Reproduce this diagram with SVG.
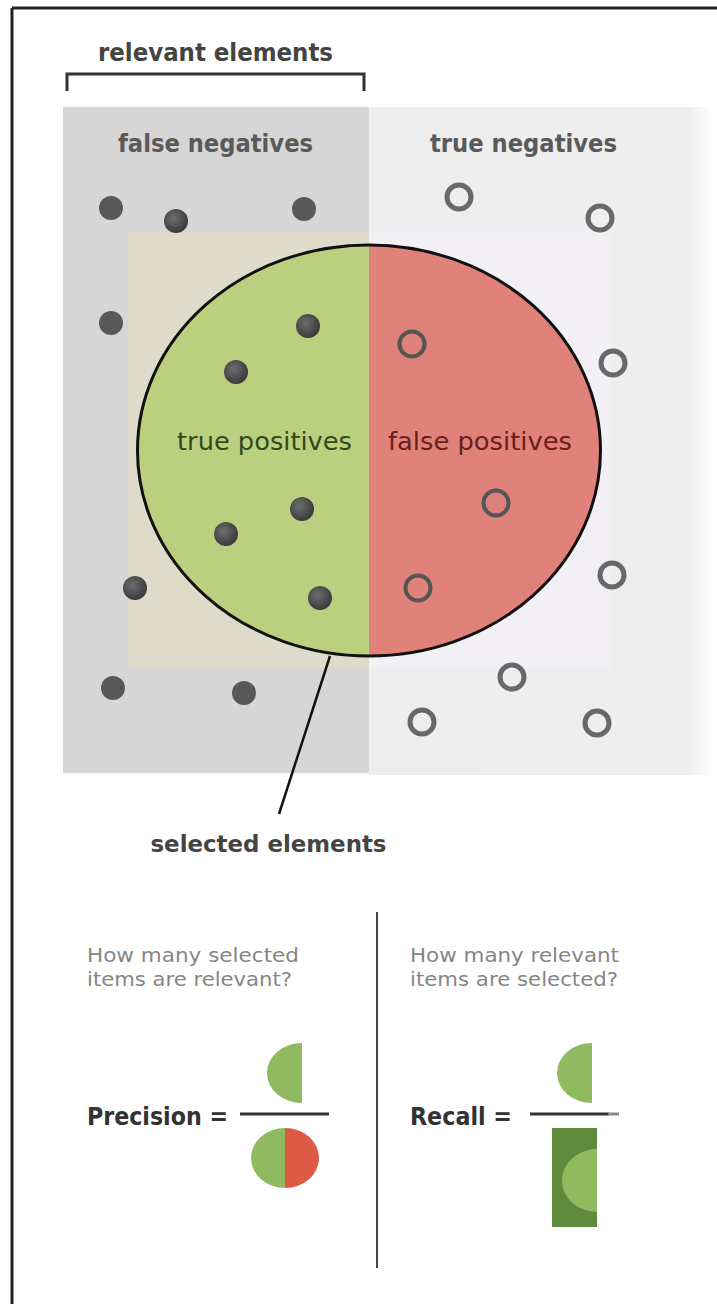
<svg xmlns="http://www.w3.org/2000/svg" width="717" height="1304" viewBox="0 0 717 1304">
  <style>
    .hdr { font-family: "DejaVu Sans", "Liberation Sans", sans-serif; font-weight: bold; }
    .lbl { font-family: "DejaVu Sans", "Liberation Sans", sans-serif; }
    .q { font-family: "DejaVu Sans", "Liberation Sans", sans-serif; font-size: 20px; fill: #868686; }
    .fml { font-family: "DejaVu Sans", "Liberation Sans", sans-serif; font-weight: bold; font-size: 25px; fill: #333; }
    .dot { fill: #585858; }
    .sph { fill: url(#sphere); }
    .ring { fill: none; stroke: #686868; stroke-width: 5; }
    .ring-in { fill: none; stroke: #555; stroke-width: 4; }
    .rule { stroke: #333; stroke-width: 3; }
  </style>
  <defs>
    <radialGradient id="sphere" cx="0.4" cy="0.38" r="0.65">
      <stop offset="0" stop-color="#6e6e6e"/>
      <stop offset="1" stop-color="#383838"/>
    </radialGradient>
    <linearGradient id="tnFade" x1="0" y1="0" x2="1" y2="0">
      <stop offset="0" stop-color="#ededed"/>
      <stop offset="0.93" stop-color="#eeeeee"/>
      <stop offset="1" stop-color="#ffffff"/>
    </linearGradient>
    <clipPath id="leftHalf"><rect x="0" y="0" width="369" height="800"/></clipPath>
    <clipPath id="rightHalf"><rect x="369" y="0" width="400" height="800"/></clipPath>
    <clipPath id="recallBox"><rect x="552" y="1128" width="45" height="99"/></clipPath>
  </defs>

  <rect width="717" height="1304" fill="#ffffff"/>

  <!-- page frame -->
  <g id="frame" stroke="#222" stroke-width="3" fill="none">
    <line x1="12" y1="8" x2="717" y2="8"/>
    <line x1="12" y1="8" x2="12" y2="1304"/>
  </g>

  <!-- relevant / irrelevant halves of the population -->
  <g id="false-negatives-area">
    <rect x="63" y="107" width="306" height="666" fill="#d6d6d6"/>
    <text class="hdr" x="215.5" y="152" font-size="25" fill="#5a5a5a" text-anchor="middle" textLength="195" lengthAdjust="spacingAndGlyphs">false negatives</text>
  </g>
  <g id="true-negatives-area">
    <rect x="369" y="107" width="343" height="668" fill="url(#tnFade)"/>
    <text class="hdr" x="523.5" y="152" font-size="25" fill="#5a5a5a" text-anchor="middle" textLength="187" lengthAdjust="spacingAndGlyphs">true negatives</text>
  </g>

  <!-- selection box behind the ellipse -->
  <g id="selection-box">
    <rect x="128" y="232" width="241" height="436" fill="#dedbca"/>
    <rect x="369" y="232" width="242" height="436" fill="#f2f0f4"/>
  </g>

  <!-- selected elements ellipse -->
  <g id="selected-ellipse">
    <ellipse cx="369" cy="450.5" rx="231.5" ry="205.5" fill="#bbd07e" clip-path="url(#leftHalf)"/>
    <ellipse cx="369" cy="450.5" rx="231.5" ry="205.5" fill="#e0817a" clip-path="url(#rightHalf)"/>
    <ellipse cx="369" cy="450.5" rx="231.5" ry="205.5" fill="none" stroke="#111" stroke-width="3"/>
    <text class="lbl" x="264.5" y="450" font-size="25.5" fill="#30491c" text-anchor="middle" textLength="175" lengthAdjust="spacingAndGlyphs">true positives</text>
    <text class="lbl" x="480" y="450" font-size="25.5" fill="#6b1f1a" text-anchor="middle" textLength="184" lengthAdjust="spacingAndGlyphs">false positives</text>
  </g>

  <!-- relevant items (filled) -->
  <g id="relevant-items">
    <circle class="dot" cx="111" cy="208" r="12"/>
    <circle class="dot" cx="304" cy="209" r="12"/>
    <circle class="dot" cx="111" cy="323" r="12"/>
    <circle class="dot" cx="113" cy="688" r="12"/>
    <circle class="dot" cx="244" cy="693" r="12"/>
    <circle class="sph" cx="176" cy="221" r="12"/>
    <circle class="sph" cx="135" cy="588" r="12"/>
    <circle class="sph" cx="308" cy="326" r="12"/>
    <circle class="sph" cx="236" cy="372" r="12"/>
    <circle class="sph" cx="302" cy="509" r="12"/>
    <circle class="sph" cx="226" cy="534" r="12"/>
    <circle class="sph" cx="320" cy="598" r="12"/>
  </g>

  <!-- irrelevant items (rings) -->
  <g id="irrelevant-items">
    <circle class="ring" cx="459" cy="197" r="12"/>
    <circle class="ring" cx="600" cy="218" r="12"/>
    <circle class="ring" cx="613" cy="363" r="12"/>
    <circle class="ring" cx="612" cy="575" r="12"/>
    <circle class="ring" cx="512" cy="677" r="12"/>
    <circle class="ring" cx="422" cy="722" r="12"/>
    <circle class="ring" cx="597" cy="723" r="12"/>
    <circle class="ring-in" cx="412" cy="344" r="12.5"/>
    <circle class="ring-in" cx="496" cy="503" r="12.5"/>
    <circle class="ring-in" cx="418" cy="588" r="12.5"/>
  </g>

  <!-- bracket label over the relevant half -->
  <g id="relevant-label">
    <text class="hdr" x="215.5" y="61" font-size="24" fill="#444" text-anchor="middle" textLength="235" lengthAdjust="spacingAndGlyphs">relevant elements</text>
  </g>
  <g id="selected-label">
    <text class="hdr" x="268.5" y="852" font-size="23" fill="#444" text-anchor="middle" textLength="236" lengthAdjust="spacingAndGlyphs">selected elements</text>
  </g>

  <g id="connectors" fill="none">
    <polyline points="67,91 67,74 364,74 364,91" stroke="#333" stroke-width="3"/>
    <line x1="330" y1="656" x2="279" y2="814" stroke="#111" stroke-width="2.5"/>
  </g>

  <!-- precision / recall panel -->
  <g id="divider">
    <line x1="377" y1="912" x2="377" y2="1268" stroke="#444" stroke-width="2"/>
  </g>

  <g id="precision">
    <text class="q" x="87" y="962" textLength="212" lengthAdjust="spacingAndGlyphs">How many selected</text>
    <text class="q" x="87" y="986" textLength="205" lengthAdjust="spacingAndGlyphs">items are relevant?</text>
    <text class="fml" x="87" y="1125" textLength="141" lengthAdjust="spacingAndGlyphs">Precision =</text>
    <line class="rule" x1="240" y1="1114" x2="329" y2="1114"/>
    <path d="M302,1043 A35,30 0 0 0 302,1103 Z" fill="#8fba5f"/>
    <path d="M285,1128 A34,30 0 0 0 285,1188 Z" fill="#8fba5f"/>
    <path d="M285,1128 A34,30 0 0 1 285,1188 Z" fill="#df5a45"/>
  </g>

  <g id="recall">
    <text class="q" x="410" y="962" textLength="209" lengthAdjust="spacingAndGlyphs">How many relevant</text>
    <text class="q" x="410" y="986" textLength="208" lengthAdjust="spacingAndGlyphs">items are selected?</text>
    <text class="fml" x="410" y="1125" textLength="102" lengthAdjust="spacingAndGlyphs">Recall =</text>
    <line class="rule" x1="530" y1="1114" x2="609" y2="1114"/>
    <line x1="608" y1="1114" x2="619" y2="1114" stroke="#888" stroke-width="3"/>
    <path d="M592,1043 A35,30 0 0 0 592,1103 Z" fill="#8fba5f"/>
    <rect x="552" y="1128" width="45" height="99" fill="#5e8a3d"/>
    <ellipse cx="597" cy="1180.5" rx="35" ry="31.5" fill="#8fbb5e" clip-path="url(#recallBox)"/>
  </g>
</svg>
